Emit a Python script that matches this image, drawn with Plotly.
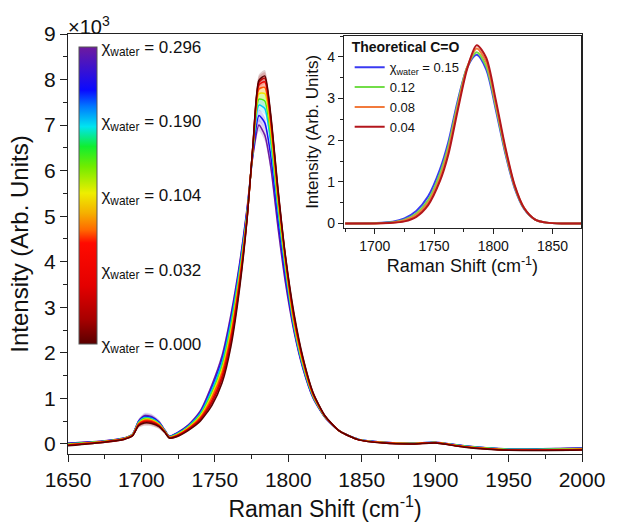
import plotly.graph_objects as go
from plotly.colors import sample_colorscale

FONT = "Liberation Sans"

# ---------------- main spectra (Raman shift, intensity x10^3) ----------------
shift = [1650, 1675, 1688, 1694, 1698, 1702, 1707, 1712, 1716, 1719, 1724, 1732,
         1740, 1748, 1755, 1761, 1767, 1772, 1776, 1780, 1784, 1788, 1793, 1798,
         1804, 1810, 1817, 1825, 1835, 1848, 1865, 1885, 1900, 1920, 1950, 2000]

chi_water = [0.000, 0.016, 0.032, 0.068, 0.104, 0.147, 0.190, 0.243, 0.296]

spec_000 = [-0.04, 0.04, 0.10, 0.18, 0.40, 0.46, 0.45, 0.38, 0.25, 0.13, 0.16, 0.30,
            0.50, 0.85, 1.35, 2.15, 3.45, 4.95, 6.60, 7.98, 8.08, 7.25, 5.60, 4.15,
            2.85, 1.90, 1.12, 0.62, 0.28, 0.09, 0.02, 0.00, 0.02, -0.07, -0.14, -0.13]
spec_016 = [-0.03, 0.04, 0.10, 0.185, 0.41, 0.48, 0.47, 0.39, 0.255, 0.135, 0.17, 0.315,
            0.53, 0.91, 1.43, 2.24, 3.52, 4.96, 6.59, 7.94, 8.03, 7.20, 5.57, 4.13,
            2.80, 1.87, 1.105, 0.615, 0.28, 0.09, 0.02, 0.00, 0.02, -0.065, -0.135, -0.125]
spec_032 = [-0.02, 0.05, 0.11, 0.19, 0.425, 0.50, 0.49, 0.405, 0.26, 0.14, 0.18, 0.33,
            0.555, 0.96, 1.50, 2.33, 3.59, 4.98, 6.575, 7.88, 7.95, 7.135, 5.515, 4.09,
            2.75, 1.84, 1.09, 0.61, 0.28, 0.09, 0.025, 0.005, 0.025, -0.06, -0.13, -0.12]
spec_068 = [-0.02, 0.05, 0.11, 0.195, 0.44, 0.52, 0.51, 0.42, 0.27, 0.145, 0.19, 0.345,
            0.58, 1.02, 1.58, 2.41, 3.66, 5.00, 6.55, 7.79, 7.83, 7.03, 5.44, 4.04,
            2.70, 1.81, 1.075, 0.605, 0.28, 0.095, 0.03, 0.01, 0.03, -0.06, -0.13, -0.115]
spec_104 = [-0.01, 0.055, 0.115, 0.20, 0.45, 0.54, 0.525, 0.43, 0.275, 0.15, 0.20, 0.36,
            0.61, 1.075, 1.65, 2.50, 3.72, 5.03, 6.525, 7.69, 7.69, 6.905, 5.345, 3.97,
            2.65, 1.775, 1.06, 0.60, 0.28, 0.095, 0.03, 0.01, 0.03, -0.055, -0.125, -0.11]
spec_147 = [0.00, 0.06, 0.12, 0.205, 0.46, 0.56, 0.54, 0.44, 0.28, 0.155, 0.21, 0.375,
            0.64, 1.13, 1.72, 2.59, 3.79, 5.06, 6.495, 7.57, 7.53, 6.77, 5.24, 3.90,
            2.60, 1.74, 1.045, 0.595, 0.28, 0.095, 0.03, 0.01, 0.03, -0.05, -0.12, -0.105]
spec_190 = [0.00, 0.06, 0.12, 0.21, 0.475, 0.58, 0.56, 0.455, 0.29, 0.16, 0.22, 0.39,
            0.665, 1.19, 1.80, 2.68, 3.86, 5.09, 6.46, 7.44, 7.365, 6.62, 5.13, 3.82,
            2.55, 1.71, 1.03, 0.59, 0.28, 0.10, 0.035, 0.015, 0.035, -0.045, -0.115, -0.10]
spec_243 = [0.01, 0.065, 0.125, 0.215, 0.49, 0.60, 0.58, 0.47, 0.295, 0.165, 0.23, 0.405,
            0.69, 1.24, 1.87, 2.76, 3.93, 5.15, 6.40, 7.21, 7.05, 6.34, 4.93, 3.68,
            2.50, 1.68, 1.015, 0.585, 0.28, 0.10, 0.04, 0.02, 0.04, -0.045, -0.115, -0.095]
spec_296 = [0.02, 0.07, 0.13, 0.22, 0.50, 0.62, 0.60, 0.48, 0.30, 0.17, 0.24, 0.42,
            0.72, 1.30, 1.95, 2.85, 4.00, 5.20, 6.35, 7.00, 6.78, 6.10, 4.75, 3.55,
            2.45, 1.65, 1.00, 0.58, 0.28, 0.10, 0.04, 0.02, 0.04, -0.04, -0.11, -0.09]

# standard deviation of the repeated measurements at each shift
spread = [0.01, 0.01, 0.01, 0.02, 0.05, 0.06, 0.06, 0.05, 0.03, 0.02, 0.02, 0.02,
          0.03, 0.04, 0.05, 0.06, 0.08, 0.09, 0.11, 0.13, 0.13, 0.11, 0.09, 0.07,
          0.05, 0.04, 0.03, 0.02, 0.01, 0.01, 0.01, 0.01, 0.01, 0.01, 0.01, 0.01]

spectra = [spec_000, spec_016, spec_032, spec_068, spec_104,
           spec_147, spec_190, spec_243, spec_296]

# colour bar labels
cbar_pos = [0.0, 0.25, 0.5, 0.75, 1.0]
cbar_chi = ["0.000", "0.032", "0.104", "0.190", "0.296"]

# ---------------- inset: theoretical C=O band ----------------
th_shift = [1675, 1700, 1715, 1725, 1735, 1745, 1755, 1762, 1770, 1778,
            1786, 1794, 1802, 1810, 1818, 1826, 1835, 1845, 1860, 1875]
th_015 = [0.0, 0.01, 0.04, 0.12, 0.30, 0.65, 1.30, 1.95, 2.95, 3.75,
          4.05, 3.70, 2.75, 1.70, 0.85, 0.35, 0.10, 0.02, 0.0, 0.0]
th_012 = [0.0, 0.005, 0.03, 0.09, 0.24, 0.56, 1.20, 1.85, 2.88, 3.76,
          4.11, 3.78, 2.82, 1.75, 0.88, 0.36, 0.10, 0.02, 0.0, 0.0]
th_008 = [0.0, 0.0, 0.02, 0.07, 0.20, 0.50, 1.10, 1.75, 2.80, 3.75,
          4.20, 3.88, 2.90, 1.80, 0.90, 0.37, 0.10, 0.02, 0.0, 0.0]
th_004 = [0.0, 0.0, 0.015, 0.05, 0.16, 0.44, 1.02, 1.65, 2.72, 3.72,
          4.28, 3.98, 2.98, 1.85, 0.92, 0.37, 0.10, 0.02, 0.0, 0.0]
th_names = ["χ<sub>water</sub> = 0.15", "0.12", "0.08", "0.04"]
th_colors = ["#3a3af2", "#72dd48", "#f27a3c", "#b3161c"]

rainbow = [
    [0.000, "#5a0000"], [0.084, "#a80000"], [0.196, "#e40000"], [0.340, "#ff0a00"],
    [0.385, "#ff6a00"], [0.441, "#f5b000"], [0.508, "#eeee00"], [0.598, "#70ec00"],
    [0.665, "#10ee30"], [0.732, "#00e4f0"], [0.800, "#0078ff"], [0.855, "#0a0aff"],
    [1.000, "#6e1a9e"],
]

fig = go.Figure()

n = len(spectra)
line_cols = sample_colorscale(rainbow, [k / (n - 1) for k in range(n)], colortype="rgb")


def with_alpha(rgb, a):
    return rgb.replace("rgb(", "rgba(").replace(")", f", {a})")


# shaded spread bands first, then the mean curves on top
for ys, col in zip(spectra, line_cols):
    upper = [y + s for y, s in zip(ys, spread)]
    lower = [y - s for y, s in zip(ys, spread)]
    fig.add_trace(go.Scatter(
        x=shift + shift[::-1], y=upper + lower[::-1],
        fill="toself", fillcolor=with_alpha(col, 0.18),
        line=dict(width=0, shape="spline", smoothing=0.6),
        mode="lines", showlegend=False, hoverinfo="skip",
        xaxis="x", yaxis="y"))

for ys, col, chi in zip(spectra[::-1], line_cols[::-1], chi_water[::-1]):
    fig.add_trace(go.Scatter(
        x=shift, y=ys, mode="lines",
        line=dict(color=col, width=1.5, shape="spline", smoothing=0.6),
        name=f"χ = {chi:.3f}", showlegend=False,
        xaxis="x", yaxis="y"))

# colour scale for the water fraction
fig.add_trace(go.Scatter(
    x=[None], y=[None], mode="markers", showlegend=False, hoverinfo="skip",
    marker=dict(color=[0.0], cmin=0, cmax=1, colorscale=rainbow, showscale=True,
                colorbar=dict(
                    x=0.021, xanchor="left", y=0.262, yanchor="bottom",
                    len=0.707, lenmode="fraction",
                    thickness=18, thicknessmode="pixels",
                    outlinewidth=1, outlinecolor="#555555",
                    tickmode="array", tickvals=cbar_pos,
                    ticktext=[f"χ<sub>water</sub> = {c}" for c in cbar_chi],
                    ticks="", ticklen=0,
                    tickfont=dict(family=FONT, size=17, color="#111111"),
                    xpad=0, ypad=0)),
    xaxis="x", yaxis="y"))

# inset traces
for ys, name, col in zip([th_015, th_012, th_008, th_004], th_names, th_colors):
    fig.add_trace(go.Scatter(
        x=th_shift, y=ys, mode="lines", name=name,
        line=dict(color=col, width=2, shape="spline", smoothing=0.8),
        xaxis="x2", yaxis="y2"))

axis_common = dict(
    showline=True, linecolor="#222222", linewidth=1.3, mirror=True,
    ticks="outside", tickcolor="#222222", tickwidth=1.2,
    showgrid=False, zeroline=False,
)

fig.update_layout(
    width=617, height=529,
    margin=dict(l=68, r=24, t=34, b=72),
    paper_bgcolor="white", plot_bgcolor="white",
    font=dict(family=FONT, color="#111111"),
    xaxis=dict(
        domain=[0, 1], range=[1650, 2000], tick0=1650, dtick=50, ticklen=7,
        minor=dict(dtick=25, ticklen=4, ticks="outside", tickcolor="#222222"),
        tickfont=dict(size=21),
        title=dict(text="Raman Shift (cm<sup>-1</sup>)", font=dict(size=23), standoff=10),
        anchor="y", **axis_common),
    yaxis=dict(
        domain=[0, 1], range=[-0.22, 9], tick0=0, dtick=1, ticklen=7,
        minor=dict(dtick=0.5, ticklen=4, ticks="outside", tickcolor="#222222"),
        tickfont=dict(size=21),
        title=dict(text="Intensity (Arb. Units)", font=dict(size=24), standoff=8),
        anchor="x", **axis_common),
    xaxis2=dict(
        domain=[0.537, 0.998], range=[1674, 1874], tick0=1700, dtick=50, ticklen=5,
        minor=dict(dtick=25, ticklen=3, ticks="outside", tickcolor="#222222"),
        tickfont=dict(size=14),
        title=dict(text="Raman Shift (cm<sup>-1</sup>)", font=dict(size=18), standoff=6),
        anchor="y2", **axis_common),
    yaxis2=dict(
        domain=[0.539, 0.995], range=[-0.1, 4.5], tick0=0, dtick=1, ticklen=5,
        minor=dict(dtick=0.5, ticklen=3, ticks="outside", tickcolor="#222222"),
        tickfont=dict(size=14),
        title=dict(text="Intensity (Arb. Units)", font=dict(size=17), standoff=4),
        anchor="x2", **axis_common),
    legend=dict(
        x=0.548, y=1.0, xanchor="left", yanchor="top",
        bgcolor="rgba(0,0,0,0)", borderwidth=0,
        title=dict(text="<b>Theoretical C=O</b>", font=dict(size=14)),
        font=dict(size=13), tracegroupgap=0, itemwidth=30),
    annotations=[dict(
        text="×10<sup>3</sup>", x=0, y=1, xref="paper", yref="paper",
        xanchor="left", yanchor="bottom", showarrow=False,
        font=dict(size=20), xshift=-2, yshift=-6)],
)

fig.write_html("out.html")
